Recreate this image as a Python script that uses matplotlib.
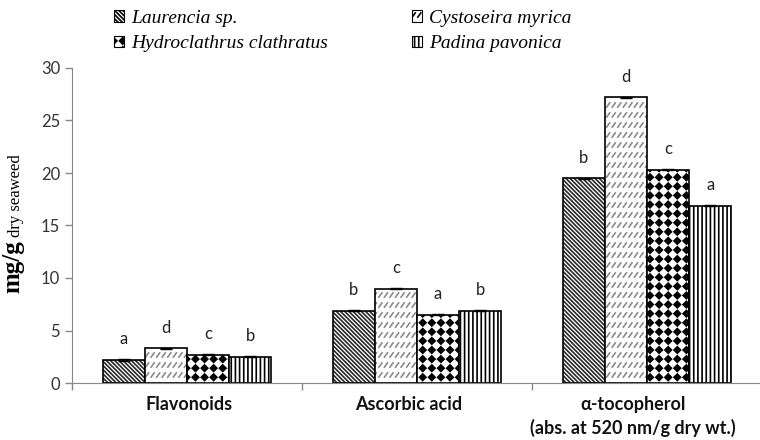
import numpy as np
import matplotlib
matplotlib.use('Agg')
import matplotlib.pyplot as plt
import matplotlib.hatch as mhatch
from matplotlib.path import Path
from matplotlib.patches import Patch

# data
groups = ['Flavonoids', 'Ascorbic acid', 'α-tocopherol\n(abs. at 520 nm/g dry wt.)']
species = ['Laurencia sp.', 'Cystoseira myrica', 'Hydroclathrus clathratus', 'Padina pavonica']
laurencia = [2.2, 6.9, 19.5]
cystoseira = [3.3, 9.0, 27.2]
hydroclathrus = [2.7, 6.5, 20.3]
padina = [2.5, 6.9, 16.9]
err_laurencia = [0.06, 0.05, 0.05]
err_cystoseira = [0.05, 0.06, 0.06]
err_hydroclathrus = [0.06, 0.06, 0.06]
err_padina = [0.05, 0.06, 0.08]
let_laurencia = ['a', 'b', 'b']
let_cystoseira = ['d', 'c', 'd']
let_hydroclathrus = ['c', 'a', 'c']
let_padina = ['b', 'b', 'a']


# two custom hatches: 'O' -> grid of black diamonds, 'o' -> rows of short slashes
class FilledDiamonds(mhatch.HatchPatternBase):
    def __init__(self, hatch, density):
        self.n = 11 if 'O' in hatch else 0
        self.num_vertices = self.n * self.n * 5

    def set_vertices_and_codes(self, vertices, codes):
        n = self.n
        r = 0.36 / n
        shape = np.array([[0, -r], [r, 0], [0, r], [-r, 0], [0, -r]])
        k = 0
        for i in range(n):
            for j in range(n):
                vertices[k:k + 5] = shape + [(i + 0.5) / n, (j + 0.5) / n]
                codes[k] = Path.MOVETO
                codes[k + 1:k + 4] = Path.LINETO
                codes[k + 4] = Path.CLOSEPOLY
                k += 5


class SlashDashes(mhatch.HatchPatternBase):
    def __init__(self, hatch, density):
        self.n = 10 if 'o' in hatch else 0
        self.m = 18
        self.num_vertices = self.n * self.m * 2

    def set_vertices_and_codes(self, vertices, codes):
        n, m = self.n, self.m
        h = 0.42 / n
        k = 0
        for i in range(n):
            y = (i + 0.5) / n
            for j in range(m):
                x = (j + 0.2) / m
                vertices[k] = (x, y - h / 2)
                vertices[k + 1] = (x + 0.55 / m, y + h / 2)
                codes[k] = Path.MOVETO
                codes[k + 1] = Path.LINETO
                k += 2


mhatch._hatch_types = [FilledDiamonds if t is mhatch.LargeCircles
                       else SlashDashes if t is mhatch.SmallCircles
                       else t for t in mhatch._hatch_types]

plt.rcParams['hatch.linewidth'] = 1.2
plt.rcParams['font.family'] = ['Lato', 'DejaVu Sans']

fig = plt.figure(figsize=(7.6, 4.4), dpi=100)
ax = fig.add_axes([72 / 760, 57 / 440, 690 / 760, 315 / 440])

series = [laurencia, cystoseira, hydroclathrus, padina]
errs = [err_laurencia, err_cystoseira, err_hydroclathrus, err_padina]
letters = [let_laurencia, let_cystoseira, let_hydroclathrus, let_padina]
hatches = ['\\' * 8, 'o', 'O', '||||']
hcolors = ['#2a2a2a', '#8a8a8a', 'black', 'black']

x = np.arange(len(groups))
w = 0.183
for i, (vals, e, lets) in enumerate(zip(series, errs, letters)):
    pos = x + (i - 1.5) * w
    ax.bar(pos, vals, w, color='white', edgecolor=hcolors[i], hatch=hatches[i], linewidth=0)
    ax.bar(pos, vals, w, fill=False, edgecolor='black', linewidth=1.2,
           yerr=e, error_kw=dict(ecolor='black', capsize=4, elinewidth=1, capthick=1))
    for p, v, t in zip(pos, vals, lets):
        ax.annotate(t, (p, v), xytext=(0, 9), textcoords='offset points',
                    ha='center', va='bottom', fontsize=12, color='#222222')

ax.set_xlim(-0.5, 2.5)
ax.set_ylim(0, 30)
ax.set_yticks(range(0, 31, 5))
ax.tick_params(axis='y', colors='#888888', labelcolor='#333333', labelsize=12, length=5, width=1)
ax.set_xticks([-0.5, 0.5, 1.5, 2.5])
ax.set_xticklabels([])
ax.tick_params(axis='x', colors='#888888', length=5, width=1)
for s in ['top', 'right']:
    ax.spines[s].set_visible(False)
for s in ['left', 'bottom']:
    ax.spines[s].set_color('#888888')

shift = [2, -8, -14]
for i, g in enumerate(groups):
    ax.annotate(g, (x[i], 0), xycoords=('data', 'axes fraction'),
                xytext=(shift[i] * 0.72, -9), textcoords='offset points',
                ha='center', va='top', fontsize=13, fontweight='bold',
                linespacing=1.4, color='#111111')

fig.text(1 / 760, 1 - 267 / 440, 'mg/g', rotation=90, ha='left', va='center',
         family='Liberation Serif', fontweight='bold', fontsize=18)
fig.text(16 / 760, 1 - 196 / 440, 'dry seaweed', rotation=90, ha='center', va='center',
         family='Liberation Serif', fontsize=12)

order = [0, 2, 1, 3]
handles = [Patch(facecolor='white', edgecolor='black', hatch=hatches[i], linewidth=0.8,
                 label=species[i]) for i in order]
fig.legend(handles=handles, loc='upper left', bbox_to_anchor=(104 / 760, 1.0), ncol=2,
           frameon=False, prop=dict(family='Liberation Serif', style='italic', size=14),
           handlelength=0.55, handleheight=0.55, handletextpad=0.35,
           columnspacing=4.3, labelspacing=0.45, borderaxespad=0.1)

fig.savefig('out.png', dpi=100)
